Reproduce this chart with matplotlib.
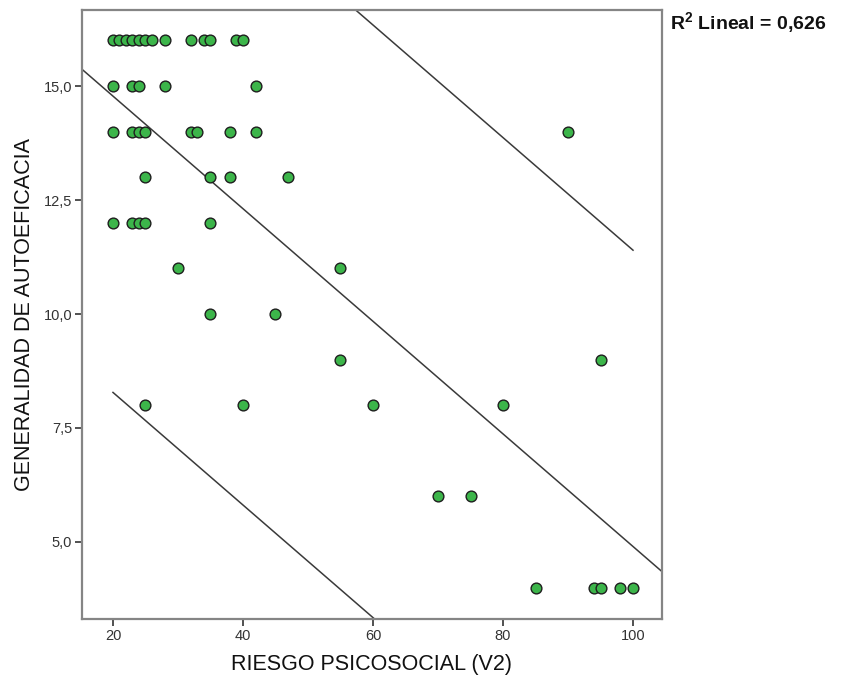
import numpy as np
import matplotlib
matplotlib.use("Agg")
import matplotlib.pyplot as plt

# scatter points, grouped by y value
riesgo = [20, 21, 22, 23, 24, 25, 26, 28, 32, 34, 35, 39, 40,
          20, 23, 24, 28, 42,
          20, 23, 24, 25, 32, 33, 38, 42, 90,
          25, 35, 38, 47,
          20, 23, 24, 25, 35,
          30, 55,
          35, 45,
          55, 95,
          25, 40, 60, 80,
          70, 75,
          85, 94, 95, 98, 100]
autoeficacia = [16] * 13 + [15] * 5 + [14] * 9 + [13] * 4 + [12] * 5 + \
    [11] * 2 + [10] * 2 + [9] * 2 + [8] * 4 + [6] * 2 + [4] * 5

# fit line and 95% individual prediction band
intercept = 17.25
slope = -0.1235
band = 6.5
r2_text = "0,626"

x_ticks = [20, 40, 60, 80, 100]
y_ticks = [5.0, 7.5, 10.0, 12.5, 15.0]

plt.rcParams['font.family'] = ['Liberation Sans', 'DejaVu Sans']
plt.rcParams['mathtext.default'] = 'regular'

fig = plt.figure(figsize=(8.53, 6.82), dpi=100)
ax = fig.add_axes([0.0961, 0.0924, 0.680, 0.893])

xlim = (15.23, 104.46)
ylim = (3.31, 16.67)

# fit line spans the whole axis, band lines span the data range
xs = np.array(xlim)
ax.plot(xs, intercept + slope * xs, color="#3a3a3a", lw=1.1, zorder=2)
xd = np.array([min(riesgo), max(riesgo)])
ax.plot(xd, intercept + slope * xd + band, color="#3a3a3a", lw=1.1, zorder=2)
ax.plot(xd, intercept + slope * xd - band, color="#3a3a3a", lw=1.1, zorder=2)

ax.scatter(riesgo, autoeficacia, s=60, color="#3cb54a", edgecolor="#1e1e1e",
           linewidth=1.0, zorder=3)

ax.set_xlim(*xlim)
ax.set_ylim(*ylim)
ax.set_xticks(x_ticks)
ax.set_xticklabels([str(t) for t in x_ticks])
ax.set_yticks(y_ticks)
ax.set_yticklabels([("%.1f" % t).replace(".", ",") for t in y_ticks])

for side in ax.spines.values():
    side.set_color("#858585")
    side.set_linewidth(1.6)
ax.tick_params(direction="out", length=5, width=1.2, color="#333333",
               labelsize=10.5, labelcolor="#333333", pad=2)

ax.set_xlabel("RIESGO PSICOSOCIAL (V2)", fontsize=15.5, color="#111111",
              labelpad=8)
ax.set_ylabel("GENERALIDAD DE AUTOEFICACIA", fontsize=15.5, color="#111111",
              labelpad=6)

fig.text(0.785, 0.967, "R$^{2}$ Lineal = " + r2_text, fontsize=14,
         fontweight="bold", color="#111111", ha="left", va="center")

fig.savefig("out.png", dpi=100)
